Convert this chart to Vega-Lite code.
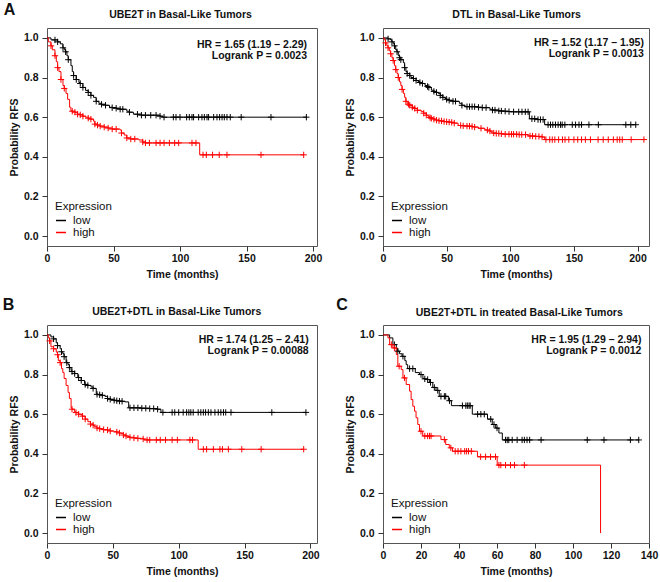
{
"$schema": "https://vega.github.io/schema/vega-lite/v6.json",
"padding": {"left": 2, "top": 1, "right": 4, "bottom": 2},
"background": "white",
"datasets": {
"A": [
{"g":"low","t":0,"s":1,"c":0},{"g":"low","t":3,"s":0.99,"c":0},{"g":"low","t":6,"s":0.99,"c":1},{"g":"low","t":8,"s":0.98,"c":1},{"g":"low","t":10,"s":0.97,"c":0},{"g":"low","t":12,"s":0.95,"c":1},{"g":"low","t":13,"s":0.94,"c":0},{"g":"low","t":14,"s":0.93,"c":1},{"g":"low","t":15,"s":0.91,"c":0},{"g":"low","t":16,"s":0.89,"c":1},{"g":"low","t":18,"s":0.86,"c":0},{"g":"low","t":19,"s":0.83,"c":0},{"g":"low","t":20,"s":0.81,"c":1},{"g":"low","t":22,"s":0.79,"c":1},{"g":"low","t":24,"s":0.775,"c":0},{"g":"low","t":25,"s":0.77,"c":1},{"g":"low","t":27,"s":0.75,"c":1},{"g":"low","t":29,"s":0.735,"c":0},{"g":"low","t":31,"s":0.725,"c":1},{"g":"low","t":33,"s":0.71,"c":1},{"g":"low","t":35,"s":0.70,"c":0},{"g":"low","t":37,"s":0.68,"c":1},{"g":"low","t":39,"s":0.67,"c":0},{"g":"low","t":41,"s":0.665,"c":1},{"g":"low","t":44,"s":0.66,"c":1},{"g":"low","t":47,"s":0.65,"c":0},{"g":"low","t":49,"s":0.648,"c":1},{"g":"low","t":52,"s":0.645,"c":1},{"g":"low","t":55,"s":0.64,"c":1},{"g":"low","t":57,"s":0.64,"c":1},{"g":"low","t":60,"s":0.63,"c":0},{"g":"low","t":62,"s":0.625,"c":1},{"g":"low","t":65,"s":0.615,"c":0},{"g":"low","t":68,"s":0.615,"c":1},{"g":"low","t":71,"s":0.61,"c":1},{"g":"low","t":74,"s":0.61,"c":1},{"g":"low","t":78,"s":0.61,"c":1},{"g":"low","t":82,"s":0.61,"c":1},{"g":"low","t":85,"s":0.605,"c":1},{"g":"low","t":87,"s":0.60,"c":0},{"g":"low","t":88,"s":0.60,"c":1},{"g":"low","t":95,"s":0.60,"c":1},{"g":"low","t":97,"s":0.60,"c":1},{"g":"low","t":100,"s":0.60,"c":1},{"g":"low","t":105,"s":0.6,"c":1},{"g":"low","t":107,"s":0.6,"c":1},{"g":"low","t":109,"s":0.6,"c":1},{"g":"low","t":110.2,"s":0.6,"c":1},{"g":"low","t":114,"s":0.6,"c":1},{"g":"low","t":116.5,"s":0.6,"c":1},{"g":"low","t":118.3,"s":0.6,"c":1},{"g":"low","t":120.3,"s":0.6,"c":1},{"g":"low","t":121.5,"s":0.6,"c":1},{"g":"low","t":125.3,"s":0.6,"c":1},{"g":"low","t":127.8,"s":0.6,"c":1},{"g":"low","t":129.8,"s":0.6,"c":1},{"g":"low","t":131.6,"s":0.6,"c":1},{"g":"low","t":133.3,"s":0.6,"c":1},{"g":"low","t":135.3,"s":0.6,"c":1},{"g":"low","t":137.8,"s":0.6,"c":1},{"g":"low","t":146,"s":0.6,"c":1},{"g":"low","t":168.4,"s":0.6,"c":1},{"g":"low","t":195,"s":0.6,"c":1},
{"g":"high","t":0,"s":1,"c":0},{"g":"high","t":1,"s":0.98,"c":0},{"g":"high","t":3,"s":0.96,"c":1},{"g":"high","t":4,"s":0.94,"c":0},{"g":"high","t":6,"s":0.91,"c":1},{"g":"high","t":7,"s":0.88,"c":0},{"g":"high","t":8,"s":0.85,"c":1},{"g":"high","t":9,"s":0.83,"c":0},{"g":"high","t":10.5,"s":0.79,"c":1},{"g":"high","t":12,"s":0.76,"c":0},{"g":"high","t":13,"s":0.745,"c":1},{"g":"high","t":14.3,"s":0.72,"c":0},{"g":"high","t":15.5,"s":0.69,"c":0},{"g":"high","t":17,"s":0.65,"c":0},{"g":"high","t":18,"s":0.632,"c":0},{"g":"high","t":19,"s":0.63,"c":1},{"g":"high","t":21,"s":0.625,"c":1},{"g":"high","t":23,"s":0.615,"c":1},{"g":"high","t":25,"s":0.612,"c":1},{"g":"high","t":27,"s":0.605,"c":1},{"g":"high","t":29,"s":0.60,"c":0},{"g":"high","t":31,"s":0.595,"c":1},{"g":"high","t":33,"s":0.59,"c":1},{"g":"high","t":35,"s":0.58,"c":0},{"g":"high","t":36,"s":0.565,"c":1},{"g":"high","t":38,"s":0.56,"c":1},{"g":"high","t":40,"s":0.555,"c":1},{"g":"high","t":43,"s":0.55,"c":1},{"g":"high","t":46,"s":0.545,"c":1},{"g":"high","t":49,"s":0.54,"c":1},{"g":"high","t":52,"s":0.54,"c":1},{"g":"high","t":55,"s":0.535,"c":0},{"g":"high","t":56,"s":0.52,"c":1},{"g":"high","t":58,"s":0.51,"c":0},{"g":"high","t":60,"s":0.495,"c":1},{"g":"high","t":63,"s":0.49,"c":1},{"g":"high","t":66,"s":0.49,"c":1},{"g":"high","t":69,"s":0.485,"c":0},{"g":"high","t":72,"s":0.475,"c":1},{"g":"high","t":74,"s":0.47,"c":1},{"g":"high","t":77,"s":0.47,"c":1},{"g":"high","t":82,"s":0.47,"c":1},{"g":"high","t":85,"s":0.47,"c":1},{"g":"high","t":88,"s":0.47,"c":1},{"g":"high","t":92,"s":0.47,"c":1},{"g":"high","t":96,"s":0.47,"c":1},{"g":"high","t":99,"s":0.47,"c":1},{"g":"high","t":109,"s":0.47,"c":1},{"g":"high","t":112,"s":0.47,"c":1},{"g":"high","t":114.8,"s":0.41,"c":0},{"g":"high","t":117.3,"s":0.41,"c":1},{"g":"high","t":119.8,"s":0.41,"c":1},{"g":"high","t":124.5,"s":0.41,"c":1},{"g":"high","t":129.5,"s":0.41,"c":1},{"g":"high","t":135.3,"s":0.41,"c":1},{"g":"high","t":160.9,"s":0.41,"c":1},{"g":"high","t":193,"s":0.41,"c":1}
],
"D": [
{"g":"low","t":0,"s":1,"c":0},{"g":"low","t":4,"s":0.995,"c":1},{"g":"low","t":6,"s":0.99,"c":0},{"g":"low","t":7,"s":0.98,"c":1},{"g":"low","t":8,"s":0.97,"c":0},{"g":"low","t":9,"s":0.96,"c":1},{"g":"low","t":10,"s":0.94,"c":0},{"g":"low","t":11,"s":0.93,"c":1},{"g":"low","t":12,"s":0.91,"c":0},{"g":"low","t":13,"s":0.90,"c":1},{"g":"low","t":14,"s":0.89,"c":1},{"g":"low","t":16,"s":0.875,"c":0},{"g":"low","t":17,"s":0.85,"c":1},{"g":"low","t":18,"s":0.83,"c":0},{"g":"low","t":19,"s":0.82,"c":1},{"g":"low","t":21,"s":0.81,"c":1},{"g":"low","t":22,"s":0.80,"c":0},{"g":"low","t":24,"s":0.795,"c":1},{"g":"low","t":26,"s":0.785,"c":1},{"g":"low","t":27.6,"s":0.78,"c":0},{"g":"low","t":29,"s":0.775,"c":1},{"g":"low","t":31,"s":0.77,"c":1},{"g":"low","t":33,"s":0.76,"c":0},{"g":"low","t":35,"s":0.755,"c":1},{"g":"low","t":36,"s":0.75,"c":1},{"g":"low","t":38,"s":0.736,"c":0},{"g":"low","t":40,"s":0.73,"c":1},{"g":"low","t":42,"s":0.725,"c":1},{"g":"low","t":43.4,"s":0.72,"c":0},{"g":"low","t":45,"s":0.71,"c":1},{"g":"low","t":47,"s":0.70,"c":1},{"g":"low","t":48.7,"s":0.694,"c":0},{"g":"low","t":50,"s":0.69,"c":1},{"g":"low","t":52,"s":0.685,"c":1},{"g":"low","t":55,"s":0.68,"c":1},{"g":"low","t":57,"s":0.68,"c":1},{"g":"low","t":60,"s":0.67,"c":0},{"g":"low","t":62,"s":0.66,"c":1},{"g":"low","t":64.5,"s":0.653,"c":0},{"g":"low","t":66,"s":0.653,"c":1},{"g":"low","t":68,"s":0.653,"c":1},{"g":"low","t":70,"s":0.653,"c":1},{"g":"low","t":72,"s":0.653,"c":1},{"g":"low","t":75,"s":0.65,"c":1},{"g":"low","t":78,"s":0.648,"c":1},{"g":"low","t":81,"s":0.648,"c":1},{"g":"low","t":84,"s":0.64,"c":0},{"g":"low","t":86,"s":0.636,"c":1},{"g":"low","t":88,"s":0.636,"c":1},{"g":"low","t":91,"s":0.632,"c":1},{"g":"low","t":93,"s":0.631,"c":1},{"g":"low","t":96,"s":0.63,"c":1},{"g":"low","t":99,"s":0.628,"c":1},{"g":"low","t":102.6,"s":0.627,"c":1},{"g":"low","t":106.6,"s":0.627,"c":1},{"g":"low","t":109.2,"s":0.627,"c":1},{"g":"low","t":111.8,"s":0.627,"c":1},{"g":"low","t":114,"s":0.627,"c":1},{"g":"low","t":115,"s":0.592,"c":0},{"g":"low","t":117,"s":0.592,"c":1},{"g":"low","t":119.2,"s":0.592,"c":1},{"g":"low","t":121.8,"s":0.588,"c":1},{"g":"low","t":123.7,"s":0.588,"c":1},{"g":"low","t":125.8,"s":0.588,"c":1},{"g":"low","t":127,"s":0.562,"c":0},{"g":"low","t":129.7,"s":0.562,"c":1},{"g":"low","t":131.6,"s":0.562,"c":1},{"g":"low","t":133.4,"s":0.562,"c":1},{"g":"low","t":135.5,"s":0.562,"c":1},{"g":"low","t":137.6,"s":0.562,"c":1},{"g":"low","t":139.5,"s":0.562,"c":1},{"g":"low","t":140.8,"s":0.562,"c":1},{"g":"low","t":142.9,"s":0.562,"c":1},{"g":"low","t":148.7,"s":0.562,"c":1},{"g":"low","t":151.3,"s":0.562,"c":1},{"g":"low","t":154,"s":0.562,"c":1},{"g":"low","t":156,"s":0.562,"c":1},{"g":"low","t":161.8,"s":0.562,"c":1},{"g":"low","t":169.2,"s":0.562,"c":1},{"g":"low","t":190.8,"s":0.562,"c":1},{"g":"low","t":194.7,"s":0.562,"c":1},{"g":"low","t":198.6,"s":0.562,"c":1},
{"g":"high","t":0,"s":1,"c":0},{"g":"high","t":1,"s":0.99,"c":0},{"g":"high","t":2,"s":0.975,"c":1},{"g":"high","t":3,"s":0.96,"c":0},{"g":"high","t":4,"s":0.95,"c":1},{"g":"high","t":5,"s":0.935,"c":0},{"g":"high","t":6,"s":0.92,"c":1},{"g":"high","t":7,"s":0.90,"c":0},{"g":"high","t":8,"s":0.886,"c":1},{"g":"high","t":9,"s":0.86,"c":0},{"g":"high","t":10,"s":0.84,"c":1},{"g":"high","t":11,"s":0.82,"c":0},{"g":"high","t":12,"s":0.80,"c":1},{"g":"high","t":13,"s":0.778,"c":0},{"g":"high","t":14,"s":0.76,"c":0},{"g":"high","t":15,"s":0.74,"c":1},{"g":"high","t":16,"s":0.72,"c":0},{"g":"high","t":17,"s":0.70,"c":0},{"g":"high","t":18,"s":0.68,"c":1},{"g":"high","t":19,"s":0.67,"c":0},{"g":"high","t":20,"s":0.665,"c":1},{"g":"high","t":21,"s":0.66,"c":1},{"g":"high","t":23,"s":0.65,"c":1},{"g":"high","t":25,"s":0.644,"c":1},{"g":"high","t":27,"s":0.635,"c":1},{"g":"high","t":30,"s":0.628,"c":0},{"g":"high","t":32,"s":0.62,"c":1},{"g":"high","t":34,"s":0.61,"c":1},{"g":"high","t":35.5,"s":0.603,"c":0},{"g":"high","t":37,"s":0.598,"c":1},{"g":"high","t":38,"s":0.594,"c":1},{"g":"high","t":40,"s":0.59,"c":1},{"g":"high","t":42,"s":0.585,"c":1},{"g":"high","t":44,"s":0.582,"c":1},{"g":"high","t":46,"s":0.581,"c":1},{"g":"high","t":48,"s":0.578,"c":1},{"g":"high","t":50,"s":0.577,"c":1},{"g":"high","t":52,"s":0.575,"c":1},{"g":"high","t":54,"s":0.574,"c":1},{"g":"high","t":56,"s":0.57,"c":1},{"g":"high","t":59,"s":0.558,"c":0},{"g":"high","t":61,"s":0.558,"c":1},{"g":"high","t":63,"s":0.556,"c":1},{"g":"high","t":66,"s":0.555,"c":1},{"g":"high","t":68,"s":0.555,"c":1},{"g":"high","t":70,"s":0.553,"c":1},{"g":"high","t":72,"s":0.55,"c":1},{"g":"high","t":75,"s":0.544,"c":0},{"g":"high","t":77,"s":0.544,"c":1},{"g":"high","t":80,"s":0.536,"c":0},{"g":"high","t":82,"s":0.535,"c":1},{"g":"high","t":84,"s":0.53,"c":1},{"g":"high","t":85.5,"s":0.52,"c":0},{"g":"high","t":87,"s":0.52,"c":1},{"g":"high","t":89,"s":0.518,"c":1},{"g":"high","t":91,"s":0.518,"c":1},{"g":"high","t":93,"s":0.516,"c":1},{"g":"high","t":96,"s":0.514,"c":1},{"g":"high","t":99,"s":0.514,"c":1},{"g":"high","t":101,"s":0.514,"c":1},{"g":"high","t":102.6,"s":0.514,"c":1},{"g":"high","t":105,"s":0.514,"c":1},{"g":"high","t":107,"s":0.512,"c":1},{"g":"high","t":109,"s":0.512,"c":1},{"g":"high","t":112,"s":0.512,"c":1},{"g":"high","t":114,"s":0.505,"c":0},{"g":"high","t":115.5,"s":0.505,"c":1},{"g":"high","t":117.5,"s":0.505,"c":1},{"g":"high","t":120,"s":0.503,"c":1},{"g":"high","t":122.5,"s":0.503,"c":1},{"g":"high","t":125,"s":0.5,"c":1},{"g":"high","t":127,"s":0.487,"c":0},{"g":"high","t":128,"s":0.487,"c":1},{"g":"high","t":131,"s":0.487,"c":1},{"g":"high","t":133,"s":0.487,"c":1},{"g":"high","t":135,"s":0.487,"c":1},{"g":"high","t":138,"s":0.487,"c":1},{"g":"high","t":141,"s":0.487,"c":1},{"g":"high","t":143,"s":0.487,"c":1},{"g":"high","t":146,"s":0.487,"c":1},{"g":"high","t":150,"s":0.487,"c":1},{"g":"high","t":153,"s":0.487,"c":1},{"g":"high","t":156,"s":0.487,"c":1},{"g":"high","t":159,"s":0.487,"c":1},{"g":"high","t":163,"s":0.487,"c":1},{"g":"high","t":169,"s":0.487,"c":1},{"g":"high","t":173,"s":0.487,"c":1},{"g":"high","t":177,"s":0.487,"c":1},{"g":"high","t":181,"s":0.487,"c":1},{"g":"high","t":184,"s":0.487,"c":1},{"g":"high","t":186,"s":0.487,"c":1},{"g":"high","t":188,"s":0.487,"c":1},{"g":"high","t":195,"s":0.487,"c":1},{"g":"high","t":205,"s":0.487,"c":1}
],
"B": [
{"g":"low","t":0,"s":1,"c":0},{"g":"low","t":3,"s":0.99,"c":0},{"g":"low","t":5,"s":0.98,"c":1},{"g":"low","t":7,"s":0.96,"c":0},{"g":"low","t":8,"s":0.946,"c":1},{"g":"low","t":10,"s":0.93,"c":0},{"g":"low","t":11,"s":0.915,"c":1},{"g":"low","t":12,"s":0.905,"c":0},{"g":"low","t":13,"s":0.89,"c":1},{"g":"low","t":14.5,"s":0.863,"c":0},{"g":"low","t":15,"s":0.86,"c":1},{"g":"low","t":16,"s":0.85,"c":0},{"g":"low","t":17,"s":0.835,"c":1},{"g":"low","t":18.3,"s":0.82,"c":0},{"g":"low","t":19,"s":0.815,"c":1},{"g":"low","t":21,"s":0.805,"c":1},{"g":"low","t":23.4,"s":0.788,"c":0},{"g":"low","t":24,"s":0.785,"c":1},{"g":"low","t":26,"s":0.77,"c":1},{"g":"low","t":28.5,"s":0.754,"c":0},{"g":"low","t":29,"s":0.75,"c":1},{"g":"low","t":31,"s":0.745,"c":1},{"g":"low","t":33.5,"s":0.737,"c":0},{"g":"low","t":35,"s":0.73,"c":1},{"g":"low","t":37.4,"s":0.704,"c":0},{"g":"low","t":38,"s":0.70,"c":1},{"g":"low","t":40,"s":0.698,"c":1},{"g":"low","t":42,"s":0.695,"c":1},{"g":"low","t":44,"s":0.69,"c":0},{"g":"low","t":46,"s":0.679,"c":1},{"g":"low","t":48,"s":0.675,"c":1},{"g":"low","t":51,"s":0.67,"c":1},{"g":"low","t":53,"s":0.668,"c":1},{"g":"low","t":55,"s":0.666,"c":1},{"g":"low","t":57,"s":0.665,"c":1},{"g":"low","t":59,"s":0.662,"c":0},{"g":"low","t":62,"s":0.632,"c":0},{"g":"low","t":63,"s":0.632,"c":1},{"g":"low","t":66,"s":0.632,"c":1},{"g":"low","t":69,"s":0.632,"c":1},{"g":"low","t":72,"s":0.63,"c":1},{"g":"low","t":75,"s":0.63,"c":1},{"g":"low","t":78,"s":0.628,"c":1},{"g":"low","t":81,"s":0.628,"c":1},{"g":"low","t":84,"s":0.625,"c":1},{"g":"low","t":86.5,"s":0.609,"c":0},{"g":"low","t":88,"s":0.609,"c":1},{"g":"low","t":95,"s":0.609,"c":1},{"g":"low","t":97,"s":0.609,"c":1},{"g":"low","t":100,"s":0.609,"c":1},{"g":"low","t":103.4,"s":0.609,"c":1},{"g":"low","t":106,"s":0.609,"c":1},{"g":"low","t":107.7,"s":0.609,"c":1},{"g":"low","t":109.2,"s":0.609,"c":1},{"g":"low","t":111,"s":0.609,"c":1},{"g":"low","t":114.8,"s":0.609,"c":1},{"g":"low","t":116.8,"s":0.609,"c":1},{"g":"low","t":118.7,"s":0.609,"c":1},{"g":"low","t":120.4,"s":0.609,"c":1},{"g":"low","t":122.5,"s":0.609,"c":1},{"g":"low","t":124.5,"s":0.609,"c":1},{"g":"low","t":127.5,"s":0.609,"c":1},{"g":"low","t":130,"s":0.609,"c":1},{"g":"low","t":132,"s":0.609,"c":1},{"g":"low","t":134,"s":0.609,"c":1},{"g":"low","t":135.7,"s":0.609,"c":1},{"g":"low","t":139.7,"s":0.609,"c":1},{"g":"low","t":170.7,"s":0.609,"c":1},{"g":"low","t":196.6,"s":0.609,"c":1},
{"g":"high","t":0,"s":1,"c":0},{"g":"high","t":1,"s":0.985,"c":0},{"g":"high","t":2,"s":0.97,"c":1},{"g":"high","t":3,"s":0.94,"c":0},{"g":"high","t":5,"s":0.93,"c":1},{"g":"high","t":7,"s":0.913,"c":0},{"g":"high","t":8,"s":0.90,"c":1},{"g":"high","t":8.6,"s":0.87,"c":0},{"g":"high","t":10,"s":0.86,"c":1},{"g":"high","t":11,"s":0.83,"c":0},{"g":"high","t":12,"s":0.81,"c":0},{"g":"high","t":13,"s":0.78,"c":0},{"g":"high","t":14.5,"s":0.745,"c":0},{"g":"high","t":16,"s":0.71,"c":0},{"g":"high","t":17,"s":0.679,"c":0},{"g":"high","t":18.3,"s":0.632,"c":0},{"g":"high","t":19,"s":0.625,"c":1},{"g":"high","t":20.8,"s":0.612,"c":0},{"g":"high","t":22,"s":0.608,"c":1},{"g":"high","t":24,"s":0.60,"c":1},{"g":"high","t":26,"s":0.595,"c":0},{"g":"high","t":27,"s":0.59,"c":1},{"g":"high","t":29,"s":0.575,"c":1},{"g":"high","t":31,"s":0.562,"c":0},{"g":"high","t":33,"s":0.55,"c":1},{"g":"high","t":35,"s":0.545,"c":1},{"g":"high","t":36,"s":0.537,"c":0},{"g":"high","t":38,"s":0.53,"c":1},{"g":"high","t":40,"s":0.527,"c":1},{"g":"high","t":41,"s":0.525,"c":0},{"g":"high","t":43,"s":0.522,"c":1},{"g":"high","t":46,"s":0.52,"c":1},{"g":"high","t":48,"s":0.515,"c":1},{"g":"high","t":51,"s":0.512,"c":0},{"g":"high","t":53,"s":0.51,"c":1},{"g":"high","t":55,"s":0.505,"c":1},{"g":"high","t":56.4,"s":0.503,"c":0},{"g":"high","t":58,"s":0.495,"c":1},{"g":"high","t":60,"s":0.49,"c":1},{"g":"high","t":61.5,"s":0.487,"c":0},{"g":"high","t":63,"s":0.483,"c":1},{"g":"high","t":66,"s":0.48,"c":1},{"g":"high","t":69,"s":0.478,"c":1},{"g":"high","t":71.7,"s":0.478,"c":0},{"g":"high","t":73,"s":0.475,"c":1},{"g":"high","t":74,"s":0.47,"c":0},{"g":"high","t":76,"s":0.47,"c":1},{"g":"high","t":78,"s":0.47,"c":1},{"g":"high","t":83,"s":0.47,"c":1},{"g":"high","t":86,"s":0.47,"c":1},{"g":"high","t":90,"s":0.47,"c":1},{"g":"high","t":95,"s":0.47,"c":1},{"g":"high","t":99,"s":0.47,"c":1},{"g":"high","t":108.5,"s":0.47,"c":1},{"g":"high","t":110.5,"s":0.47,"c":1},{"g":"high","t":114.8,"s":0.423,"c":0},{"g":"high","t":118.7,"s":0.423,"c":1},{"g":"high","t":121.2,"s":0.423,"c":1},{"g":"high","t":126.3,"s":0.423,"c":1},{"g":"high","t":131.3,"s":0.423,"c":1},{"g":"high","t":133.2,"s":0.423,"c":1},{"g":"high","t":137.7,"s":0.423,"c":1},{"g":"high","t":147.9,"s":0.423,"c":1},{"g":"high","t":162.6,"s":0.423,"c":1},{"g":"high","t":194.9,"s":0.423,"c":1}
],
"C": [
{"g":"low","t":0,"s":1,"c":0},{"g":"low","t":3.5,"s":0.985,"c":0},{"g":"low","t":5.2,"s":0.951,"c":0},{"g":"low","t":6,"s":0.951,"c":1},{"g":"low","t":7,"s":0.93,"c":0},{"g":"low","t":7.8,"s":0.918,"c":1},{"g":"low","t":8.7,"s":0.905,"c":0},{"g":"low","t":10,"s":0.892,"c":0},{"g":"low","t":10.5,"s":0.892,"c":1},{"g":"low","t":11.5,"s":0.87,"c":0},{"g":"low","t":12.2,"s":0.85,"c":0},{"g":"low","t":13,"s":0.83,"c":0},{"g":"low","t":14,"s":0.83,"c":1},{"g":"low","t":15.7,"s":0.83,"c":1},{"g":"low","t":17,"s":0.81,"c":0},{"g":"low","t":19.2,"s":0.80,"c":0},{"g":"low","t":20,"s":0.80,"c":1},{"g":"low","t":21,"s":0.78,"c":0},{"g":"low","t":22,"s":0.778,"c":1},{"g":"low","t":23.5,"s":0.775,"c":1},{"g":"low","t":24.4,"s":0.76,"c":0},{"g":"low","t":25,"s":0.76,"c":1},{"g":"low","t":26.2,"s":0.735,"c":0},{"g":"low","t":27,"s":0.735,"c":1},{"g":"low","t":27.9,"s":0.72,"c":0},{"g":"low","t":28.8,"s":0.72,"c":1},{"g":"low","t":29.6,"s":0.69,"c":0},{"g":"low","t":30.5,"s":0.69,"c":1},{"g":"low","t":32.3,"s":0.69,"c":1},{"g":"low","t":33,"s":0.69,"c":1},{"g":"low","t":34.4,"s":0.668,"c":0},{"g":"low","t":35,"s":0.668,"c":1},{"g":"low","t":36,"s":0.643,"c":0},{"g":"low","t":41.8,"s":0.643,"c":1},{"g":"low","t":43.6,"s":0.643,"c":1},{"g":"low","t":44.4,"s":0.643,"c":1},{"g":"low","t":45.3,"s":0.643,"c":1},{"g":"low","t":45.9,"s":0.643,"c":1},{"g":"low","t":47,"s":0.60,"c":0},{"g":"low","t":49.8,"s":0.60,"c":1},{"g":"low","t":51.5,"s":0.60,"c":1},{"g":"low","t":53.3,"s":0.60,"c":1},{"g":"low","t":55,"s":0.575,"c":0},{"g":"low","t":56.7,"s":0.575,"c":1},{"g":"low","t":57.5,"s":0.548,"c":0},{"g":"low","t":58.4,"s":0.548,"c":1},{"g":"low","t":59.3,"s":0.53,"c":0},{"g":"low","t":60,"s":0.53,"c":1},{"g":"low","t":61,"s":0.505,"c":0},{"g":"low","t":62.8,"s":0.47,"c":0},{"g":"low","t":64.5,"s":0.47,"c":1},{"g":"low","t":65.4,"s":0.47,"c":1},{"g":"low","t":66.2,"s":0.47,"c":1},{"g":"low","t":68,"s":0.47,"c":1},{"g":"low","t":70.6,"s":0.47,"c":1},{"g":"low","t":73.2,"s":0.47,"c":1},{"g":"low","t":74.4,"s":0.47,"c":1},{"g":"low","t":75.8,"s":0.47,"c":1},{"g":"low","t":77.2,"s":0.47,"c":1},{"g":"low","t":83.2,"s":0.47,"c":1},{"g":"low","t":107.5,"s":0.47,"c":1},{"g":"low","t":116.3,"s":0.47,"c":1},{"g":"low","t":130.2,"s":0.47,"c":1},{"g":"low","t":134.6,"s":0.47,"c":1},
{"g":"high","t":0,"s":1,"c":0},{"g":"high","t":2.6,"s":0.985,"c":0},{"g":"high","t":3.5,"s":0.951,"c":0},{"g":"high","t":4.4,"s":0.951,"c":1},{"g":"high","t":5.2,"s":0.934,"c":0},{"g":"high","t":6,"s":0.934,"c":1},{"g":"high","t":7,"s":0.901,"c":0},{"g":"high","t":7.8,"s":0.842,"c":0},{"g":"high","t":8.5,"s":0.842,"c":1},{"g":"high","t":9.6,"s":0.825,"c":0},{"g":"high","t":10.5,"s":0.783,"c":0},{"g":"high","t":11.3,"s":0.783,"c":1},{"g":"high","t":12.2,"s":0.75,"c":0},{"g":"high","t":14,"s":0.716,"c":0},{"g":"high","t":14.8,"s":0.674,"c":0},{"g":"high","t":15.7,"s":0.64,"c":0},{"g":"high","t":16.6,"s":0.615,"c":0},{"g":"high","t":17.4,"s":0.582,"c":0},{"g":"high","t":18.3,"s":0.548,"c":0},{"g":"high","t":19.2,"s":0.514,"c":0},{"g":"high","t":20,"s":0.514,"c":1},{"g":"high","t":20.9,"s":0.49,"c":0},{"g":"high","t":22,"s":0.49,"c":1},{"g":"high","t":23.5,"s":0.49,"c":1},{"g":"high","t":24.5,"s":0.49,"c":1},{"g":"high","t":25.3,"s":0.49,"c":1},{"g":"high","t":30.5,"s":0.472,"c":0},{"g":"high","t":32.3,"s":0.472,"c":1},{"g":"high","t":33,"s":0.447,"c":0},{"g":"high","t":34.9,"s":0.43,"c":0},{"g":"high","t":35.7,"s":0.43,"c":1},{"g":"high","t":36.6,"s":0.413,"c":0},{"g":"high","t":38,"s":0.413,"c":1},{"g":"high","t":39.5,"s":0.413,"c":1},{"g":"high","t":41,"s":0.413,"c":1},{"g":"high","t":43,"s":0.413,"c":1},{"g":"high","t":44,"s":0.413,"c":1},{"g":"high","t":45,"s":0.413,"c":1},{"g":"high","t":46.5,"s":0.413,"c":1},{"g":"high","t":49.7,"s":0.385,"c":0},{"g":"high","t":51.4,"s":0.385,"c":1},{"g":"high","t":54,"s":0.385,"c":1},{"g":"high","t":56.6,"s":0.385,"c":1},{"g":"high","t":59.2,"s":0.385,"c":1},{"g":"high","t":60.1,"s":0.343,"c":0},{"g":"high","t":61,"s":0.343,"c":1},{"g":"high","t":62,"s":0.343,"c":1},{"g":"high","t":64.5,"s":0.343,"c":1},{"g":"high","t":67.1,"s":0.343,"c":1},{"g":"high","t":69.2,"s":0.343,"c":1},{"g":"high","t":74.4,"s":0.343,"c":1},{"g":"high","t":114.5,"s":0,"c":0}
]
},
"columns": 2,
"bounds": "flush",
"spacing": {"row": 79, "column": 66},
"resolve": {"scale": {"x": "independent", "y": "independent", "color": "independent", "stroke": "independent"}, "legend": {"color": "independent"}},
"concat": [
{
"width": 270, "height": 218,
"data": {"name": "A"},
"layer": [
{"mark": {"type": "line", "interpolate": "step-after", "strokeWidth": 1},
 "encoding": {
  "x": {"field": "t", "type": "quantitative", "scale": {"domain": [0, 203], "nice": false, "zero": false}, "axis": {"values": [0, 50, 100, 150, 200], "labelOverlap": false, "title": "Time (months)"}},
  "y": {"field": "s", "type": "quantitative", "scale": {"domain": [-0.05, 1.05], "nice": false, "zero": false}, "axis": {"values": [0, 0.2, 0.4, 0.6, 0.8, 1], "format": ".1f", "labelOverlap": false, "title": "Probability RFS"}},
  "color": {"field": "g", "type": "nominal", "scale": {"domain": ["low", "high"], "range": ["#000000", "#ff0000"]}, "legend": {"title": "Expression"}}}},
{"transform": [{"filter": "datum.c == 1"}],
 "mark": {"type": "point", "shape": "M-1,0H1M0,-1V1", "filled": false, "size": 40, "strokeWidth": 1, "opacity": 1},
 "encoding": {
  "x": {"field": "t", "type": "quantitative", "axis": {"values": [0, 50, 100, 150, 200], "labelOverlap": false, "title": "Time (months)"}},
  "y": {"field": "s", "type": "quantitative", "axis": {"values": [0, 0.2, 0.4, 0.6, 0.8, 1], "format": ".1f", "labelOverlap": false, "title": "Probability RFS"}},
  "stroke": {"field": "g", "type": "nominal", "scale": {"domain": ["low", "high"], "range": ["#000000", "#ff0000"]}, "legend": null}}},
{"data": {"values": [{}]},
 "mark": {"type": "text", "text": ["HR = 1.65 (1.19 – 2.29)", "Logrank P = 0.0023"], "align": "right", "baseline": "top", "fontWeight": "bold", "fontSize": 10.5, "lineHeight": 10.7, "color": "#111"},
 "encoding": {"x": {"datum": 195.5, "type": "quantitative", "axis": {"values": [0, 50, 100, 150, 200], "labelOverlap": false, "title": "Time (months)"}}, "y": {"datum": 0.99, "type": "quantitative", "axis": {"values": [0, 0.2, 0.4, 0.6, 0.8, 1], "format": ".1f", "labelOverlap": false, "title": "Probability RFS"}}}},
{"data": {"values": [{}]},
 "mark": {"type": "text", "text": "UBE2T in Basal-Like Tumors", "align": "center", "baseline": "middle", "fontWeight": "bold", "fontSize": 10.5, "color": "#111"},
 "encoding": {"x": {"datum": 100.4, "type": "quantitative", "axis": {"values": [0, 50, 100, 150, 200], "labelOverlap": false, "title": "Time (months)"}}, "y": {"datum": 1.116, "type": "quantitative", "axis": {"values": [0, 0.2, 0.4, 0.6, 0.8, 1], "format": ".1f", "labelOverlap": false, "title": "Probability RFS"}}}},
{"data": {"values": [{}]},
 "mark": {"type": "text", "text": "A", "fontSize": 16, "fontWeight": "bold", "align": "left", "baseline": "middle", "color": "#111"},
 "encoding": {"x": {"datum": -32.6, "type": "quantitative", "axis": {"values": [0, 50, 100, 150, 200], "labelOverlap": false, "title": "Time (months)"}}, "y": {"datum": 1.14, "type": "quantitative", "axis": {"values": [0, 0.2, 0.4, 0.6, 0.8, 1], "format": ".1f", "labelOverlap": false, "title": "Probability RFS"}}}}
]
},
{
"width": 266, "height": 218,
"data": {"name": "D"},
"layer": [
{"mark": {"type": "line", "interpolate": "step-after", "strokeWidth": 1},
 "encoding": {
  "x": {"field": "t", "type": "quantitative", "scale": {"domain": [0, 209], "nice": false, "zero": false}, "axis": {"values": [0, 50, 100, 150, 200], "labelOverlap": false, "title": "Time (months)"}},
  "y": {"field": "s", "type": "quantitative", "scale": {"domain": [-0.05, 1.05], "nice": false, "zero": false}, "axis": {"values": [0, 0.2, 0.4, 0.6, 0.8, 1], "format": ".1f", "labelOverlap": false, "title": "Probability RFS"}},
  "color": {"field": "g", "type": "nominal", "scale": {"domain": ["low", "high"], "range": ["#000000", "#ff0000"]}, "legend": {"title": "Expression"}}}},
{"transform": [{"filter": "datum.c == 1"}],
 "mark": {"type": "point", "shape": "M-1,0H1M0,-1V1", "filled": false, "size": 40, "strokeWidth": 1, "opacity": 1},
 "encoding": {
  "x": {"field": "t", "type": "quantitative", "axis": {"values": [0, 50, 100, 150, 200], "labelOverlap": false, "title": "Time (months)"}},
  "y": {"field": "s", "type": "quantitative", "axis": {"values": [0, 0.2, 0.4, 0.6, 0.8, 1], "format": ".1f", "labelOverlap": false, "title": "Probability RFS"}},
  "stroke": {"field": "g", "type": "nominal", "scale": {"domain": ["low", "high"], "range": ["#000000", "#ff0000"]}, "legend": null}}},
{"data": {"values": [{}]},
 "mark": {"type": "text", "text": ["HR = 1.52 (1.17 – 1.95)", "Logrank P = 0.0013"], "align": "right", "baseline": "top", "fontWeight": "bold", "fontSize": 10.5, "lineHeight": 10.7, "color": "#111"},
 "encoding": {"x": {"datum": 205, "type": "quantitative", "axis": {"values": [0, 50, 100, 150, 200], "labelOverlap": false, "title": "Time (months)"}}, "y": {"datum": 1.0, "type": "quantitative", "axis": {"values": [0, 0.2, 0.4, 0.6, 0.8, 1], "format": ".1f", "labelOverlap": false, "title": "Probability RFS"}}}},
{"data": {"values": [{}]},
 "mark": {"type": "text", "text": "DTL in Basal-Like Tumors", "align": "center", "baseline": "middle", "fontWeight": "bold", "fontSize": 10.5, "color": "#111"},
 "encoding": {"x": {"datum": 105, "type": "quantitative", "axis": {"values": [0, 50, 100, 150, 200], "labelOverlap": false, "title": "Time (months)"}}, "y": {"datum": 1.116, "type": "quantitative", "axis": {"values": [0, 0.2, 0.4, 0.6, 0.8, 1], "format": ".1f", "labelOverlap": false, "title": "Probability RFS"}}}}
]
},
{
"width": 270, "height": 218,
"data": {"name": "B"},
"layer": [
{"mark": {"type": "line", "interpolate": "step-after", "strokeWidth": 1},
 "encoding": {
  "x": {"field": "t", "type": "quantitative", "scale": {"domain": [0, 205], "nice": false, "zero": false}, "axis": {"values": [0, 50, 100, 150, 200], "labelOverlap": false, "title": "Time (months)"}},
  "y": {"field": "s", "type": "quantitative", "scale": {"domain": [-0.05, 1.05], "nice": false, "zero": false}, "axis": {"values": [0, 0.2, 0.4, 0.6, 0.8, 1], "format": ".1f", "labelOverlap": false, "title": "Probability RFS"}},
  "color": {"field": "g", "type": "nominal", "scale": {"domain": ["low", "high"], "range": ["#000000", "#ff0000"]}, "legend": {"title": "Expression"}}}},
{"transform": [{"filter": "datum.c == 1"}],
 "mark": {"type": "point", "shape": "M-1,0H1M0,-1V1", "filled": false, "size": 40, "strokeWidth": 1, "opacity": 1},
 "encoding": {
  "x": {"field": "t", "type": "quantitative", "axis": {"values": [0, 50, 100, 150, 200], "labelOverlap": false, "title": "Time (months)"}},
  "y": {"field": "s", "type": "quantitative", "axis": {"values": [0, 0.2, 0.4, 0.6, 0.8, 1], "format": ".1f", "labelOverlap": false, "title": "Probability RFS"}},
  "stroke": {"field": "g", "type": "nominal", "scale": {"domain": ["low", "high"], "range": ["#000000", "#ff0000"]}, "legend": null}}},
{"data": {"values": [{}]},
 "mark": {"type": "text", "text": ["HR = 1.74 (1.25 – 2.41)", "Logrank P = 0.00088"], "align": "right", "baseline": "top", "fontWeight": "bold", "fontSize": 10.5, "lineHeight": 10.7, "color": "#111"},
 "encoding": {"x": {"datum": 198.7, "type": "quantitative", "axis": {"values": [0, 50, 100, 150, 200], "labelOverlap": false, "title": "Time (months)"}}, "y": {"datum": 1.0, "type": "quantitative", "axis": {"values": [0, 0.2, 0.4, 0.6, 0.8, 1], "format": ".1f", "labelOverlap": false, "title": "Probability RFS"}}}},
{"data": {"values": [{}]},
 "mark": {"type": "text", "text": "UBE2T+DTL in Basal-Like Tumors", "align": "center", "baseline": "middle", "fontWeight": "bold", "fontSize": 10.5, "color": "#111"},
 "encoding": {"x": {"datum": 98.5, "type": "quantitative", "axis": {"values": [0, 50, 100, 150, 200], "labelOverlap": false, "title": "Time (months)"}}, "y": {"datum": 1.114, "type": "quantitative", "axis": {"values": [0, 0.2, 0.4, 0.6, 0.8, 1], "format": ".1f", "labelOverlap": false, "title": "Probability RFS"}}}},
{"data": {"values": [{}]},
 "mark": {"type": "text", "text": "B", "fontSize": 16, "fontWeight": "bold", "align": "left", "baseline": "middle", "color": "#111"},
 "encoding": {"x": {"datum": -33.6, "type": "quantitative", "axis": {"values": [0, 50, 100, 150, 200], "labelOverlap": false, "title": "Time (months)"}}, "y": {"datum": 1.15, "type": "quantitative", "axis": {"values": [0, 0.2, 0.4, 0.6, 0.8, 1], "format": ".1f", "labelOverlap": false, "title": "Probability RFS"}}}}
]
},
{
"width": 266, "height": 218,
"data": {"name": "C"},
"layer": [
{"mark": {"type": "line", "interpolate": "step-after", "strokeWidth": 1},
 "encoding": {
  "x": {"field": "t", "type": "quantitative", "scale": {"domain": [0, 140], "nice": false, "zero": false}, "axis": {"values": [0, 20, 40, 60, 80, 100, 120, 140], "labelOverlap": false, "title": "Time (months)"}},
  "y": {"field": "s", "type": "quantitative", "scale": {"domain": [-0.05, 1.05], "nice": false, "zero": false}, "axis": {"values": [0, 0.2, 0.4, 0.6, 0.8, 1], "format": ".1f", "labelOverlap": false, "title": "Probability RFS"}},
  "color": {"field": "g", "type": "nominal", "scale": {"domain": ["low", "high"], "range": ["#000000", "#ff0000"]}, "legend": {"title": "Expression"}}}},
{"transform": [{"filter": "datum.c == 1"}],
 "mark": {"type": "point", "shape": "M-1,0H1M0,-1V1", "filled": false, "size": 40, "strokeWidth": 1, "opacity": 1},
 "encoding": {
  "x": {"field": "t", "type": "quantitative", "axis": {"values": [0, 20, 40, 60, 80, 100, 120, 140], "labelOverlap": false, "title": "Time (months)"}},
  "y": {"field": "s", "type": "quantitative", "axis": {"values": [0, 0.2, 0.4, 0.6, 0.8, 1], "format": ".1f", "labelOverlap": false, "title": "Probability RFS"}},
  "stroke": {"field": "g", "type": "nominal", "scale": {"domain": ["low", "high"], "range": ["#000000", "#ff0000"]}, "legend": null}}},
{"data": {"values": [{}]},
 "mark": {"type": "text", "text": ["HR = 1.95 (1.29 – 2.94)", "Logrank P = 0.0012"], "align": "right", "baseline": "top", "fontWeight": "bold", "fontSize": 10.5, "lineHeight": 10.7, "color": "#111"},
 "encoding": {"x": {"datum": 136, "type": "quantitative", "axis": {"values": [0, 20, 40, 60, 80, 100, 120, 140], "labelOverlap": false, "title": "Time (months)"}}, "y": {"datum": 1.0, "type": "quantitative", "axis": {"values": [0, 0.2, 0.4, 0.6, 0.8, 1], "format": ".1f", "labelOverlap": false, "title": "Probability RFS"}}}},
{"data": {"values": [{}]},
 "mark": {"type": "text", "text": "UBE2T+DTL in treated Basal-Like Tumors", "align": "center", "baseline": "middle", "fontWeight": "bold", "fontSize": 10.5, "color": "#111"},
 "encoding": {"x": {"datum": 71.7, "type": "quantitative", "axis": {"values": [0, 20, 40, 60, 80, 100, 120, 140], "labelOverlap": false, "title": "Time (months)"}}, "y": {"datum": 1.113, "type": "quantitative", "axis": {"values": [0, 0.2, 0.4, 0.6, 0.8, 1], "format": ".1f", "labelOverlap": false, "title": "Probability RFS"}}}},
{"data": {"values": [{}]},
 "mark": {"type": "text", "text": "C", "fontSize": 16, "fontWeight": "bold", "align": "left", "baseline": "middle", "color": "#111"},
 "encoding": {"x": {"datum": -24.6, "type": "quantitative", "axis": {"values": [0, 20, 40, 60, 80, 100, 120, 140], "labelOverlap": false, "title": "Time (months)"}}, "y": {"datum": 1.15, "type": "quantitative", "axis": {"values": [0, 0.2, 0.4, 0.6, 0.8, 1], "format": ".1f", "labelOverlap": false, "title": "Probability RFS"}}}}
]
}
],
"config": {
 "font": "Liberation Sans",
 "view": {"stroke": "#555555", "strokeWidth": 1},
 "axis": {"grid": false, "domain": false, "tickColor": "#333333", "tickSize": 5, "tickWidth": 1, "labelFont": "Liberation Sans", "labelFontWeight": "bold", "labelFontSize": 10.5, "labelColor": "#111111", "labelFlush": false, "labelOverlap": false, "titleFont": "Liberation Sans", "titleFontWeight": "bold", "titleFontSize": 10.5, "titleColor": "#111111"},
 "axisY": {"labelPadding": 4, "titlePadding": 4},
 "axisX": {"labelPadding": 2, "titlePadding": 6},
 "legend": {"orient": "bottom-left", "offset": 8, "padding": 0, "titleFont": "Liberation Sans", "titleFontSize": 11.5, "titleFontWeight": "normal", "titleColor": "#111111", "titlePadding": 2, "labelFont": "Liberation Sans", "labelFontSize": 11.5, "labelColor": "#111111", "labelOffset": 6, "symbolType": "stroke", "symbolSize": 100, "symbolStrokeWidth": 1.5, "rowPadding": 0}
}
}
